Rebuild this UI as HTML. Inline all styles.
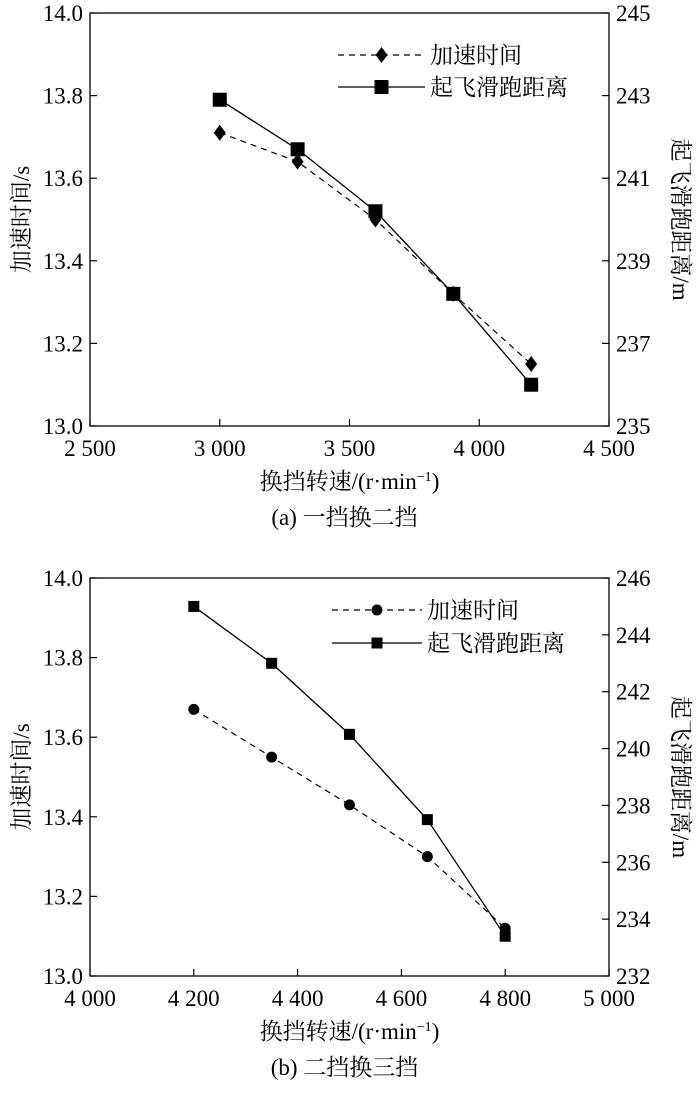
<!DOCTYPE html>
<html><head><meta charset="utf-8">
<style>
html,body{margin:0;padding:0;background:#fff;}
svg text{font-family:"Liberation Serif","Noto Serif CJK SC","Noto Sans CJK SC",serif;fill:#000;}
</style></head>
<body>
<svg id="root" width="700" height="1089" xmlns="http://www.w3.org/2000/svg"></svg>
<script>
// Chart (a) data
const aCats = [3000, 3300, 3600, 3900, 4200];
const aAccel = [13.71, 13.64, 13.50, 13.32, 13.15];
const aDist = [242.9, 241.7, 240.2, 238.2, 236.0];
const aXTicks = [2500, 3000, 3500, 4000, 4500];
const aXLabels = ["2 500", "3 000", "3 500", "4 000", "4 500"];
const aYTicks = [13.0, 13.2, 13.4, 13.6, 13.8, 14.0];
const aY2Ticks = [235, 237, 239, 241, 243, 245];
// Chart (b) data
const bCats = [4200, 4350, 4500, 4650, 4800];
const bAccel = [13.67, 13.55, 13.43, 13.30, 13.12];
const bDist = [245.0, 243.0, 240.5, 237.5, 233.4];
const bXTicks = [4000, 4200, 4400, 4600, 4800, 5000];
const bXLabels = ["4 000", "4 200", "4 400", "4 600", "4 800", "5 000"];
const bYTicks = [13.0, 13.2, 13.4, 13.6, 13.8, 14.0];
const bY2Ticks = [232, 234, 236, 238, 240, 242, 244, 246];

const NS = "http://www.w3.org/2000/svg";
const root = document.getElementById('root');
const FS = 23;
function mk(tag, attrs, parent, text){
  const e = document.createElementNS(NS, tag);
  for (const k in attrs) e.setAttribute(k, attrs[k]);
  if (text !== undefined) e.textContent = text;
  (parent || root).appendChild(e);
  return e;
}

function chart(cfg){
  const g = mk('g', {});
  
  
  const L = 90, R = 609, T = cfg.top, B = cfg.bottom;
  const xs = v => L + (v - cfg.xmin) / (cfg.xmax - cfg.xmin) * (R - L);
  const ys = v => B - (v - cfg.ymin) / (cfg.ymax - cfg.ymin) * (B - T);
  const y2s = v => B - (v - cfg.y2min) / (cfg.y2max - cfg.y2min) * (B - T);
  const frame = mk('rect', {x:L, y:T, width:R-L, height:B-T, fill:'none', stroke:'#000', 'stroke-width':1.3}, g);
  
  
  cfg.xticks.forEach((v, i) => {
    const x = xs(v);
    mk('line', {x1:x, x2:x, y1:B, y2:B-7, stroke:'#000', 'stroke-width':1.2}, g);
    const t = mk('text', {x:x, y:B+30, 'text-anchor':'middle', 'font-size':FS}, g, cfg.xlabels[i]);
    
    
  });
  cfg.yticks.forEach(v => {
    const y = ys(v);
    mk('line', {x1:L, x2:L+7, y1:y, y2:y, stroke:'#000', 'stroke-width':1.2}, g);
    const t = mk('text', {x:L-7, y:y+8, 'text-anchor':'end', 'font-size':FS}, g, v.toFixed(1));
    
    
  });
  cfg.y2ticks.forEach(v => {
    const y = y2s(v);
    mk('line', {x1:R, x2:R-7, y1:y, y2:y, stroke:'#000', 'stroke-width':1.2}, g);
    const t = mk('text', {x:R+7, y:y+8, 'text-anchor':'start', 'font-size':FS}, g, String(v));
    
    
  });
  const xt = mk('text', {x:(L+R)/2, y:B+63, 'text-anchor':'middle', 'font-size':FS}, g);
  xt.innerHTML = '换挡转速/(r·min<tspan dy="-8" font-size="14">−1</tspan><tspan dy="8">)</tspan>';
  
  
  const yt = mk('text', {x:0, y:0, 'text-anchor':'middle', 'font-size':FS, transform:`translate(29,${(T+B)/2}) rotate(-90)`}, g, '加速时间/s');
  
  
  const y2t = mk('text', {x:0, y:0, 'text-anchor':'middle', 'font-size':FS, transform:`translate(673,${(T+B)/2}) rotate(90)`}, g, '起飞滑跑距离/m');
  
  
  const cap = mk('text', {x:(L+R)/2 - 5, y:B+99, 'text-anchor':'middle', 'font-size':FS}, g, cfg.caption);
  
  
  const dashPts = cfg.cats.map((c, i) => xs(c) + ',' + ys(cfg.accel[i])).join(' ');
  const solidPts = cfg.cats.map((c, i) => xs(c) + ',' + y2s(cfg.dist[i])).join(' ');
  const dl = mk('polyline', {points:dashPts, fill:'none', stroke:'#000', 'stroke-width':1.2, 'stroke-dasharray':'6,5'}, g);
  
  
  const sl = mk('polyline', {points:solidPts, fill:'none', stroke:'#000', 'stroke-width':1.3}, g);
  
  
  const drawA = (x, y, parent) => {
    if (cfg.marker === 'diamond') return mk('polygon', {points:`${x},${y-8} ${x+6},${y} ${x},${y+8} ${x-6},${y}`, fill:'#000'}, parent);
    return mk('circle', {cx:x, cy:y, r:5.5, fill:'#000'}, parent);
  };
  const sq = cfg.sq;
  const drawB = (x, y, parent) => mk('rect', {x:x-sq/2, y:y-sq/2, width:sq, height:sq, fill:'#000'}, parent);
  cfg.cats.forEach((c, i) => {
    const m = drawA(xs(c), ys(cfg.accel[i]), g);
    
    
  });
  cfg.cats.forEach((c, i) => {
    const m = drawB(xs(c), y2s(cfg.dist[i]), g);
    
    
  });
  const lg = mk('g', {}, g);
  
  
  const l1 = cfg.leg1, l2 = cfg.leg2, lx0 = cfg.legX0, lx1 = cfg.legX1, lm = (lx0 + lx1) / 2;
  const e1 = mk('g', {}, lg);
  
  
  mk('line', {x1:lx0, x2:lx1, y1:l1, y2:l1, stroke:'#000', 'stroke-width':1.2, 'stroke-dasharray':'6,5'}, e1);
  drawA(lm, l1, e1);
  mk('text', {x:lx1 + 5, y:l1 + 8, 'font-size':FS}, e1, '加速时间');
  const e2 = mk('g', {}, lg);
  
  
  mk('line', {x1:lx0, x2:lx1, y1:l2, y2:l2, stroke:'#000', 'stroke-width':1.3}, e2);
  drawB(lm, l2, e2);
  mk('text', {x:lx1 + 5, y:l2 + 8, 'font-size':FS}, e2, '起飞滑跑距离');
}

chart({name:'chart-a', top:13, bottom:426, xmin:2500, xmax:4500, ymin:13.0, ymax:14.0, y2min:235, y2max:245,
  cats:aCats, accel:aAccel, dist:aDist, xticks:aXTicks, xlabels:aXLabels, yticks:aYTicks, y2ticks:aY2Ticks,
  caption:'(a) 一挡换二挡', marker:'diamond', sq:14, leg1:55, leg2:87, legX0:338, legX1:425});
chart({name:'chart-b', top:578, bottom:976, xmin:4000, xmax:5000, ymin:13.0, ymax:14.0, y2min:232, y2max:246,
  cats:bCats, accel:bAccel, dist:bDist, xticks:bXTicks, xlabels:bXLabels, yticks:bYTicks, y2ticks:bY2Ticks,
  caption:'(b) 二挡换三挡', marker:'circle', sq:11, leg1:610, leg2:643, legX0:332, legX1:422});
</script>
</body></html>
